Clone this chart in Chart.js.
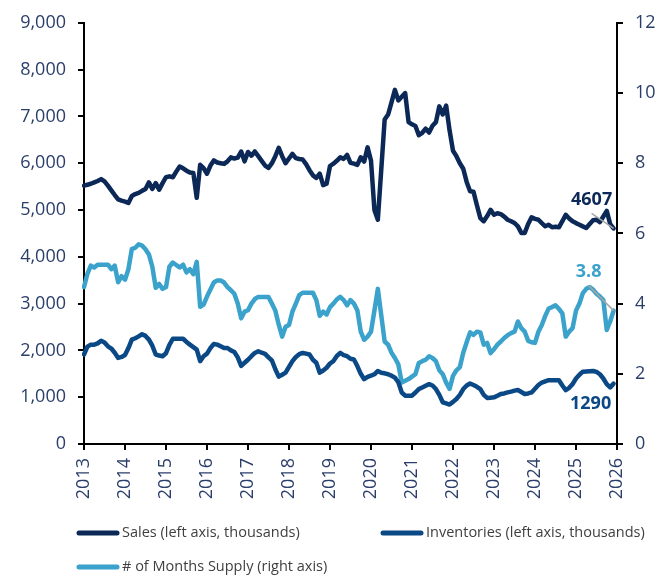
<!DOCTYPE html>
<html>
<head>
<meta charset="utf-8">
<script src="https://cdn.jsdelivr.net/npm/chart.js@4.4.1/dist/chart.umd.min.js"></script>
<style>
  html, body { margin: 0; padding: 0; background: #fff; }
  #wrap { width: 661px; height: 578px; }
</style>
</head>
<body>
<div id="wrap"><canvas id="chart"></canvas></div>
<script>
// tick labels on the date axis
const years = ["2013", "2014", "2015", "2016", "2017", "2018", "2019",
  "2020", "2021", "2022", "2023", "2024", "2025", "2026"];

// monthly categories, Jan 2013 .. Jan 2026
const months = [];
years.forEach((y, i) => {
  const last = i === years.length - 1 ? 1 : 12;
  for (let m = 1; m <= last; m++) months.push(y + "-" + String(m).padStart(2, "0"));
});

// Sales (left axis, thousands), Jan 2013 .. Dec 2025
const sales = [
  5520, 5540, 5560, 5590, 5620, 5660, 5610, 5520, 5420, 5320, 5225, 5200,
  5180, 5150, 5300, 5340, 5365, 5410, 5450, 5590, 5450, 5575, 5435, 5575,
  5700, 5720, 5700, 5820, 5930, 5890, 5840, 5800, 5790, 5260, 5965, 5895,
  5775, 5950, 6060, 6015, 6000, 5985, 6040, 6125, 6100, 6120, 6250, 6040,
  6240, 6160, 6250, 6150, 6050, 5950, 5900, 6000, 6150, 6330, 6150, 6000,
  6100, 6200, 6110, 6090, 6080, 5980, 5850, 5740, 5685, 5776, 5530, 5560,
  5940, 5990, 6050, 6127, 6092, 6176, 6008, 5990, 5965, 6127, 6035, 6338,
  6056, 5002, 4792, 5860, 6935, 7040, 7300, 7568, 7342, 7420, 7498, 6878,
  6830, 6794, 6600, 6650, 6739, 6655, 6800, 6878, 7215, 7040, 7230, 6700,
  6267, 6150, 6000, 5881, 5600, 5400, 5390, 5100, 4827, 4760, 4870, 5002,
  4897, 4930, 4911, 4860, 4792, 4760, 4722, 4650, 4511, 4511, 4700, 4842,
  4810, 4792, 4720, 4652, 4686, 4631, 4640, 4631, 4760, 4897, 4820, 4758,
  4720, 4686, 4650, 4616, 4700, 4780, 4792, 4743, 4860, 4981, 4700, 4607
];

// Inventories (left axis, thousands)
const inventories = [
  1912, 2080, 2123, 2123, 2150, 2207, 2170, 2087, 2040, 1950, 1840, 1860,
  1900, 2050, 2230, 2260, 2300, 2346, 2310, 2230, 2100, 1912, 1890, 1876,
  1940, 2120, 2249, 2249, 2249, 2249, 2180, 2123, 2070, 2017, 1770, 1876,
  1930, 2050, 2135, 2123, 2090, 2051, 2051, 2000, 1967, 1850, 1670, 1735,
  1800, 1876, 1946, 1981, 1950, 1925, 1850, 1785, 1596, 1440, 1480, 1524,
  1650, 1771, 1860, 1920, 1946, 1930, 1912, 1800, 1735, 1524, 1570, 1629,
  1720, 1771, 1880, 1946, 1900, 1876, 1820, 1806, 1665, 1500, 1385, 1433,
  1460, 1490, 1560, 1524, 1510, 1490, 1460, 1419, 1320, 1100, 1033, 1033,
  1033, 1100, 1174, 1209, 1244, 1279, 1250, 1174, 1050, 892, 870, 843,
  900, 963, 1050, 1174, 1250, 1292, 1260, 1223, 1174, 1050, 984, 990,
  997, 1030, 1068, 1080, 1102, 1120, 1140, 1153, 1110, 1068, 1080, 1102,
  1180, 1260, 1313, 1340, 1364, 1364, 1364, 1364, 1250, 1153, 1200, 1279,
  1400, 1480, 1545, 1550, 1555, 1560, 1540, 1490, 1400, 1280, 1209, 1290
];

// # of Months Supply (right axis)
const monthsSupply = [
  4.47, 4.85, 5.08, 5.03, 5.11, 5.11, 5.11, 5.11, 4.98, 5.08, 4.61, 4.78,
  4.68, 4.98, 5.56, 5.59, 5.69, 5.65, 5.55, 5.40, 5.05, 4.45, 4.56, 4.42,
  4.47, 5.05, 5.17, 5.10, 5.03, 5.11, 4.89, 4.98, 4.84, 5.19, 3.91, 3.97,
  4.20, 4.40, 4.60, 4.66, 4.66, 4.60, 4.47, 4.38, 4.28, 4.00, 3.58, 3.77,
  3.81, 4.00, 4.13, 4.19, 4.19, 4.19, 4.19, 4.00, 3.80, 3.40, 3.06, 3.34,
  3.39, 3.77, 4.00, 4.24, 4.31, 4.31, 4.31, 4.31, 4.10, 3.65, 3.77, 3.69,
  3.90, 4.00, 4.12, 4.19, 4.10, 3.95, 4.10, 4.00, 3.81, 3.20, 2.97, 3.06,
  3.20, 3.80, 4.42, 3.67, 2.92, 2.83, 2.60, 2.45, 2.27, 1.75, 1.80, 1.85,
  1.92, 1.99, 2.31, 2.36, 2.40, 2.50, 2.45, 2.36, 2.10, 1.99, 1.75, 1.57,
  1.94, 2.10, 2.19, 2.60, 2.90, 3.18, 3.11, 3.20, 3.18, 2.83, 2.88, 2.59,
  2.70, 2.83, 2.92, 3.02, 3.10, 3.16, 3.20, 3.49, 3.30, 3.20, 2.94, 2.90,
  2.88, 3.20, 3.39, 3.65, 3.86, 3.90, 3.95, 3.85, 3.72, 3.06, 3.20, 3.30,
  3.80, 4.00, 4.30, 4.42, 4.47, 4.40, 4.28, 4.20, 4.10, 3.25, 3.49, 3.80
];

const TICK_COLOR = "#2b3e6b";
const FONT = "'Open Sans', sans-serif";
Chart.defaults.font.family = FONT;

// last-value call-outs, offset from the final point of each series
const endLabels = [
  { ds: 0, text: String(sales[sales.length - 1]), dx: -22, dy: -29, leader: true },
  { ds: 2, text: monthsSupply[monthsSupply.length - 1].toFixed(1), dx: -25, dy: -39, leader: true },
  { ds: 1, text: String(inventories[inventories.length - 1]), dx: -23, dy: 20, leader: false }
];

const endLabelPlugin = {
  id: "endLabels",
  afterDatasetsDraw(chart) {
    const ctx = chart.ctx;
    ctx.save();
    endLabels.forEach((l) => {
      const meta = chart.getDatasetMeta(l.ds);
      const pt = meta.data[meta.data.length - 1];
      const lx = pt.x + l.dx;
      const ly = pt.y + l.dy;
      if (l.leader) {
        ctx.strokeStyle = "#a6a6a6";
        ctx.lineWidth = 1.5;
        ctx.beginPath();
        ctx.moveTo(lx, ly + 14);
        ctx.lineTo(pt.x, pt.y);
        ctx.stroke();
      }
      ctx.font = "bold 18px " + FONT;
      ctx.fillStyle = chart.data.datasets[l.ds].borderColor;
      ctx.textAlign = "center";
      ctx.textBaseline = "middle";
      ctx.fillText(l.text, lx, ly);
    });
    ctx.restore();
  }
};

// legend drawn under the axis labels, two columns
const legendSlots = [
  { ds: 0, x: 77, y: 533 },
  { ds: 1, x: 381, y: 533 },
  { ds: 2, x: 77, y: 567 }
];

const legendPlugin = {
  id: "bottomLegend",
  afterDraw(chart) {
    const ctx = chart.ctx;
    ctx.save();
    legendSlots.forEach((s) => {
      const ds = chart.data.datasets[s.ds];
      ctx.strokeStyle = ds.borderColor;
      ctx.lineWidth = 5;
      ctx.lineCap = "round";
      ctx.beginPath();
      ctx.moveTo(s.x + 2, s.y);
      ctx.lineTo(s.x + 40, s.y);
      ctx.stroke();
      ctx.font = "14.5px " + FONT;
      ctx.fillStyle = "#404040";
      ctx.textAlign = "left";
      ctx.textBaseline = "middle";
      ctx.fillText(ds.label, s.x + 45, s.y);
    });
    ctx.restore();
  }
};

const lineStyle = {
  borderWidth: 4.5,
  pointRadius: 0,
  tension: 0,
  borderJoinStyle: "round",
  borderCapStyle: "round",
  fill: false
};

new Chart(document.getElementById("chart"), {
  type: "line",
  data: {
    labels: months,
    datasets: [
      { ...lineStyle, label: "Sales (left axis, thousands)", data: sales,
        borderColor: "#0b2856", yAxisID: "y" },
      { ...lineStyle, label: "Inventories (left axis, thousands)", data: inventories,
        borderColor: "#0a4886", yAxisID: "y" },
      { ...lineStyle, label: "# of Months Supply (right axis)", data: monthsSupply,
        borderColor: "#3aa2cb", yAxisID: "y1" }
    ]
  },
  options: {
    responsive: true,
    maintainAspectRatio: false,
    animation: false,
    layout: { padding: { top: 17, left: 0, right: 0, bottom: 0 } },
    plugins: {
      legend: { display: false },
      tooltip: { enabled: false }
    },
    scales: {
      x: {
        type: "category",
        offset: false,
        grid: { drawOnChartArea: false, drawTicks: true, tickLength: 6, color: "#000", lineWidth: 2 },
        border: { color: "#000", width: 2 },
        ticks: {
          autoSkip: false,
          maxRotation: 90,
          minRotation: 90,
          padding: 8,
          color: TICK_COLOR,
          font: { size: 18 },
          callback(value) {
            return this.getLabelForValue(value).slice(0, 4);
          }
        },
        afterBuildTicks(scale) {
          scale.ticks = scale.ticks.filter((t) => t.value % 12 === 0);
        },
        afterFit(scale) { scale.height = 134; }
      },
      y: {
        position: "left",
        min: 0,
        max: 9000,
        grid: { drawOnChartArea: false, drawTicks: true, tickLength: 6, color: "#000", lineWidth: 2 },
        border: { color: "#000", width: 2 },
        ticks: {
          stepSize: 1000,
          padding: 12,
          color: TICK_COLOR,
          font: { size: 18 },
          callback: (v) => v.toLocaleString("en-US")
        },
        afterFit(scale) { scale.width = 84; }
      },
      y1: {
        position: "right",
        min: 0,
        max: 12,
        grid: { drawOnChartArea: false, drawTicks: true, tickLength: 6, color: "#000", lineWidth: 2 },
        border: { color: "#000", width: 2 },
        ticks: {
          stepSize: 2,
          padding: 12,
          color: TICK_COLOR,
          font: { size: 18 }
        },
        afterFit(scale) { scale.width = 44; }
      }
    }
  },
  plugins: [endLabelPlugin, legendPlugin]
});
</script>
</body>
</html>
